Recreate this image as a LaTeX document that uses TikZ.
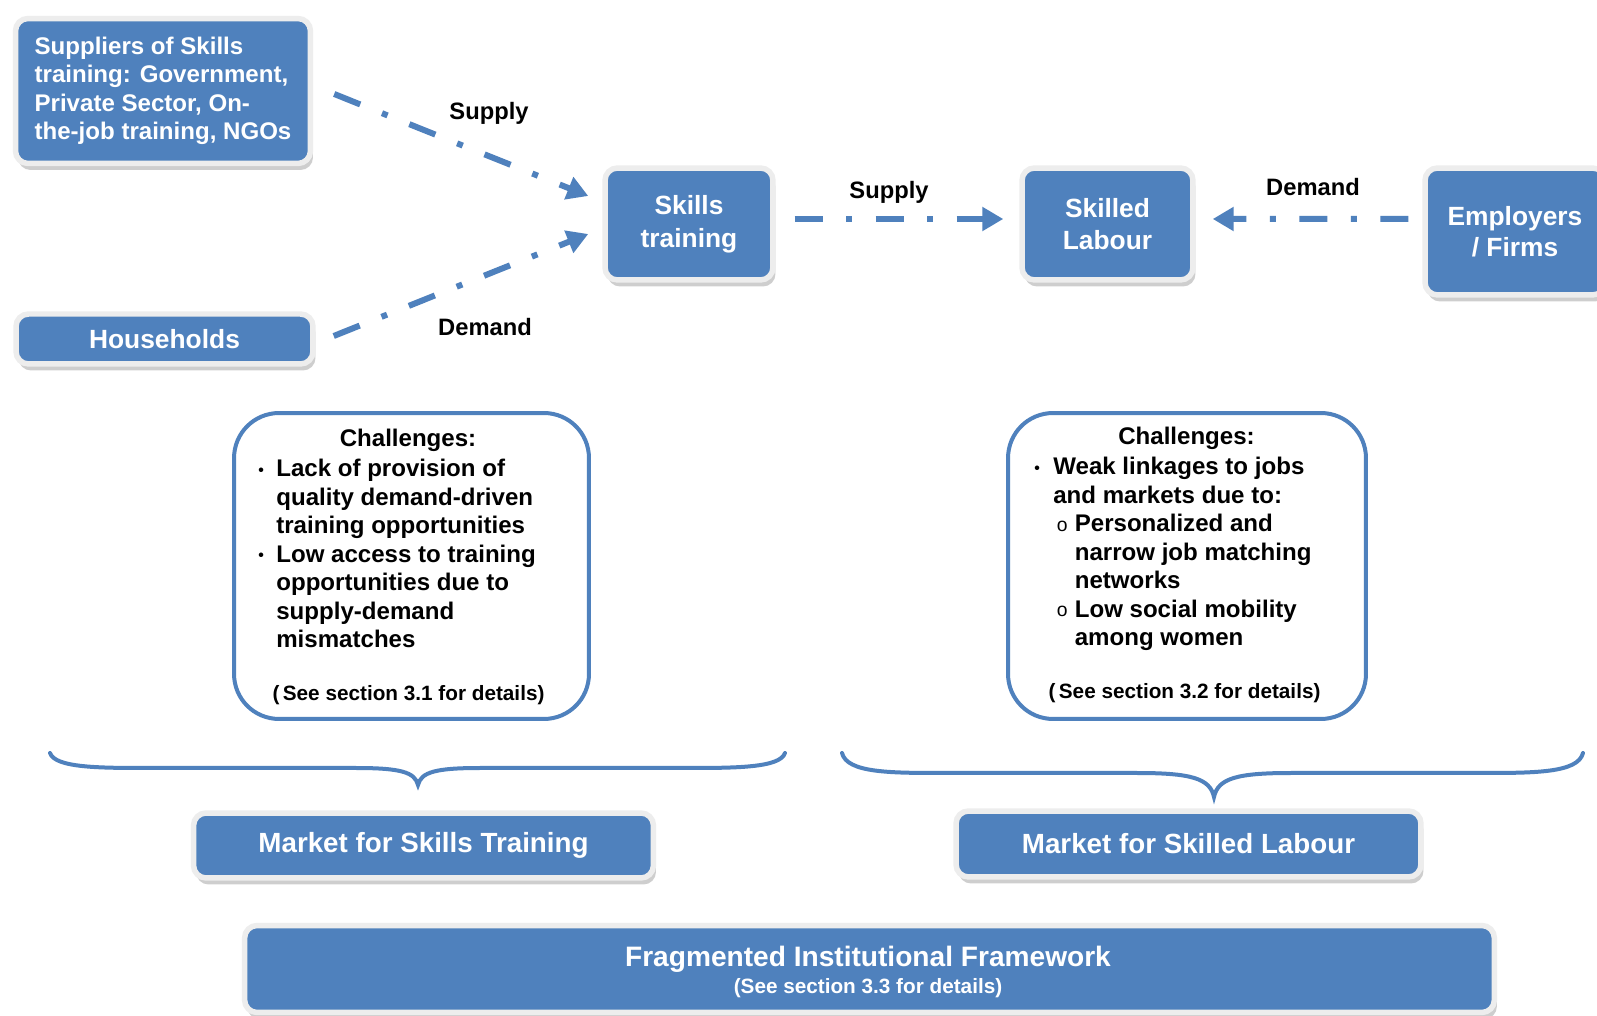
\documentclass[tikz,border=0pt]{standalone}
\usepackage{fontspec}
\setmainfont{Liberation Sans}
\usetikzlibrary{arrows.meta}
\usetikzlibrary{shadows}
\definecolor{boxblue}{HTML}{4F81BD}
\tikzset{
	bluebox/.style={
		fill=boxblue,
		draw=gray!14,
		line width=0.11cm,
		rounded corners=0.25cm,
		text=white,
		inner sep=0,
		drop shadow={shadow xshift=0.05cm,shadow yshift=-0.13cm,fill=gray!75}
	},
	chalbox/.style={
		fill=white,
		draw=boxblue,
		line width=0.08cm,
		rounded corners=0.9cm,
		inner sep=0
	},
	flow/.style={
		draw=boxblue,
		line width=0.12cm,
		dash pattern=on 0.56cm off 0.47cm on 0.12cm off 0.47cm,
		-{Triangle[width=0.46cm,length=0.42cm]}
	},
	curlybrace/.style={draw=boxblue,line width=0.08cm,line cap=round},
	lbl/.style={font=\bfseries\fontsize{13.5}{16}\selectfont},
	chaltxt/.style={font=\bfseries\fontsize{13.7}{16.2}\selectfont,align=left,inner sep=0},
	chalnote/.style={font=\bfseries\fontsize{11.8}{14}\selectfont,inner sep=0}
}
\newcommand{\bul}{\raisebox{0.05em}{\fontsize{9}{9}\selectfont\textbullet}}
\newcommand{\subbul}{\raisebox{0.02em}{\mdseries\fontsize{11}{11}\selectfont o}}

\begin{document}
\begin{tikzpicture}[x=0.02cm,y=-0.02cm]
	\useasboundingbox[fill=white] (0,0) rectangle (1597,1016);

	% top row
	\node[bluebox,minimum width=5.9cm,minimum height=2.9cm,align=left,font=\bfseries\fontsize{13.7}{16.2}\selectfont] (suppliers) at (163,91) {Suppliers of Skills\\training: Government,\\Private Sector, On-\\the-job training, NGOs};
	\node[bluebox,minimum width=5.94cm,minimum height=1cm,font=\bfseries\fontsize{15}{18}\selectfont] (households) at (164.5,339) {Households};
	\node[bluebox,minimum width=3.36cm,minimum height=2.24cm,align=center,font=\bfseries\fontsize{15}{18.5}\selectfont] (skills) at (689,224) {Skills\\training};
	\node[bluebox,minimum width=3.42cm,minimum height=2.24cm,align=center,font=\bfseries\fontsize{15}{18.5}\selectfont] (skilled) at (1107.5,224) {Skilled\\Labour};
	\node[bluebox,minimum width=3.6cm,minimum height=2.54cm,align=center,font=\bfseries\fontsize{15}{17.9}\selectfont] (employers) at (1515,231.5) {Employers\\/ Firms};

	\draw[flow] ([xshift=0.42cm,yshift=-0.06cm]suppliers.east) -- ([xshift=-0.28cm,yshift=0.56cm]skills.west);
	\draw[flow] ([xshift=0.36cm,yshift=0.06cm]households.east) -- ([xshift=-0.28cm,yshift=-0.2cm]skills.west);
	\draw[flow] ([xshift=0.38cm,yshift=0.1cm]skills.east) -- ([xshift=-0.32cm,yshift=0.1cm]skilled.west);
	\draw[flow] ([xshift=-0.28cm,yshift=0.25cm]employers.west) -- ([xshift=0.34cm,yshift=0.1cm]skilled.east);

	\node[lbl] (supply1) at (489,113) {Supply};
	\node[lbl] (demand1) at (485,327) {Demand};
	\node[lbl] (supply2) at (889,192) {Supply};
	\node[lbl] (demand2) at (1313,187) {Demand};

	% challenges
	\node[chalbox,minimum width=7.1cm,minimum height=6.12cm] (chal1) at (411.5,566) {};
	\node[chaltxt] (chal1title) at (408,440) {Challenges:};
	\node[chaltxt,anchor=north west] (chal1list) at (258,459) {%
		\makebox[0.36cm][l]{\bul}Lack of provision of\\
		\hspace*{0.36cm}quality demand-driven\\
		\hspace*{0.36cm}training opportunities\\
		\makebox[0.36cm][l]{\bul}Low access to training\\
		\hspace*{0.36cm}opportunities due to\\
		\hspace*{0.36cm}supply-demand\\
		\hspace*{0.36cm}mismatches};
	\node[chalnote] (chal1note) at (408.5,695) {(\,See section 3.1 for details)};

	\node[chalbox,minimum width=7.16cm,minimum height=6.12cm] (chal2) at (1187,566) {};
	\node[chaltxt] (chal2title) at (1186.5,438) {Challenges:};
	\node[chaltxt,anchor=north west] (chal2list) at (1034,457) {%
		\makebox[0.38cm][l]{\bul}Weak linkages to jobs\\
		\hspace*{0.38cm}and markets due to:\\
		\hspace*{0.45cm}\makebox[0.36cm][l]{\subbul}Personalized and\\
		\hspace*{0.81cm}narrow job matching\\
		\hspace*{0.81cm}networks\\
		\hspace*{0.45cm}\makebox[0.36cm][l]{\subbul}Low social mobility\\
		\hspace*{0.81cm}among women};
	\node[chalnote] (chal2note) at (1184.5,693) {(\,See section 3.2 for details)};

	% braces
	\draw[curlybrace] (50,753) .. controls (55,768) and (100,768) .. (150,768) -- (356,768) .. controls (400,768) and (415,772) .. (418,785) .. controls (421,772) and (436,768) .. (480,768) -- (685,768) .. controls (735,768) and (780,768) .. (785,753);
	\draw[curlybrace] (842,753) .. controls (847,773) and (890,773) .. (945,773) -- (1137,773) .. controls (1190,773) and (1210,778) .. (1214,797) .. controls (1218,778) and (1238,773) .. (1291,773) -- (1480,773) .. controls (1535,773) and (1578,773) .. (1583,753);

	% markets
	\node[bluebox,minimum width=9.2cm,minimum height=1.3cm,font=\bfseries\fontsize{15.8}{18}\selectfont] (mkt1) at (423.5,845.5) {Market for Skills Training};
	\node[bluebox,minimum width=9.3cm,minimum height=1.32cm,font=\bfseries\fontsize{15.8}{18}\selectfont] (mkt2) at (1188.5,844) {Market for Skilled Labour};

	\node[bluebox,minimum width=25cm,minimum height=1.74cm] (frame) at (869.5,969) {};
	\node[text=white,font=\bfseries\fontsize{16}{18}\selectfont] (frametitle) at (868,959) {Fragmented Institutional Framework};
	\node[text=white,font=\bfseries\fontsize{11.8}{14}\selectfont] (framenote) at (868,988) {(See section 3.3 for details)};
\end{tikzpicture}
\end{document}
